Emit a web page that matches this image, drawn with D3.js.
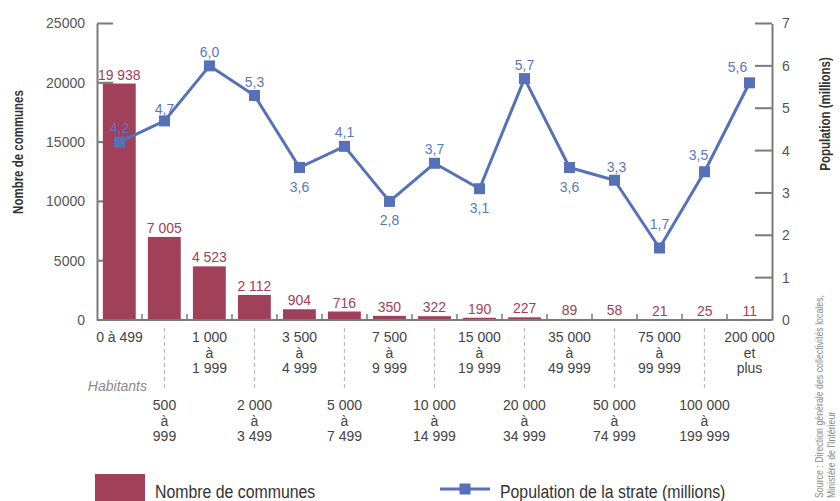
<!DOCTYPE html>
<html>
<head>
<meta charset="utf-8">
<script src="https://cdn.jsdelivr.net/npm/d3@7"></script>
<style>
  html, body { margin: 0; padding: 0; background: #fff; }
  svg { display: block; }
</style>
</head>
<body>
<svg id="chart" width="840" height="501"></svg>
<script>
// ---- Data ----
const categories = [
  "0 à 499", "500 à 999", "1 000 à 1 999", "2 000 à 3 499", "3 500 à 4 999",
  "5 000 à 7 499", "7 500 à 9 999", "10 000 à 14 999", "15 000 à 19 999",
  "20 000 à 34 999", "35 000 à 49 999", "50 000 à 74 999", "75 000 à 99 999",
  "100 000 à 199 999", "200 000 et plus"
];
const categoryLines = [
  ["0 à 499"], ["500", "à", "999"], ["1 000", "à", "1 999"], ["2 000", "à", "3 499"],
  ["3 500", "à", "4 999"], ["5 000", "à", "7 499"], ["7 500", "à", "9 999"],
  ["10 000", "à", "14 999"], ["15 000", "à", "19 999"], ["20 000", "à", "34 999"],
  ["35 000", "à", "49 999"], ["50 000", "à", "74 999"], ["75 000", "à", "99 999"],
  ["100 000", "à", "199 999"], ["200 000", "et", "plus"]
];
const communes = [19938, 7005, 4523, 2112, 904, 716, 350, 322, 190, 227, 89, 58, 21, 25, 11];
const communesLabels = ["19 938", "7 005", "4 523", "2 112", "904", "716", "350", "322", "190", "227", "89", "58", "21", "25", "11"];
const population = [4.2, 4.7, 6.0, 5.3, 3.6, 4.1, 2.8, 3.7, 3.1, 5.7, 3.6, 3.3, 1.7, 3.5, 5.6];
const leftTicks = [0, 5000, 10000, 15000, 20000, 25000];
const rightTicks = [0, 1, 2, 3, 4, 5, 6, 7];

// label placement for line values: [dx, dy] relative to point
const popLabelPlace = [
  [0, -9], [0, -7], [0, -9], [0, -9], [0, 24], [0, -9], [0, 24], [0, -9],
  [0, 24], [0, -9], [0, 24], [2, -8], [0, -19], [-6, -12], [-12, -11]
];

// ---- Styles ----
const barColor = "#a1405b";
const lineColor = "#5671b8";
const lineLabelColor = "#5a76c0";
const axisColor = "#7a7a7a";
const font = "'Liberation Sans', Arial, sans-serif";

// condense text horizontally (the original uses a condensed typeface)
function condense(sel, factor) {
  sel.each(function () {
    const w = this.getComputedTextLength();
    d3.select(this).attr("textLength", w * factor).attr("lengthAdjust", "spacingAndGlyphs");
  });
  return sel;
}

const svg = d3.select("#chart").attr("font-family", font);

const x0 = 97, x1 = 772, yBase = 320, yTop = 23.5;

const x = d3.scaleBand().domain(categories).range([x0, x1]).paddingInner(0.27).paddingOuter(0.13);
const xb = d3.scaleBand().domain(categories).range([x0, x1]);
const yL = d3.scaleLinear().domain([0, 25000]).range([yBase, yTop]);
const yR = d3.scaleLinear().domain([0, 7]).range([yBase, yTop]);

// Left axis
const leftAxis = d3.axisLeft(yL).tickValues(leftTicks).tickSize(0).tickPadding(12).tickFormat(d3.format("d"));
const gL = svg.append("g").attr("transform", `translate(${x0},0)`).call(leftAxis);
gL.select(".domain").attr("stroke", axisColor).attr("stroke-width", 2);
gL.selectAll(".tick text").attr("font-family", font).attr("font-size", 14).attr("fill", "#555");
svg.append("g").selectAll("line").data(leftTicks).join("line")
  .attr("x1", x0).attr("x2", x0 + 16)
  .attr("y1", d => yL(d)).attr("y2", d => yL(d))
  .attr("stroke", axisColor).attr("stroke-width", 2);

// Right axis
const rightAxis = d3.axisRight(yR).tickValues(rightTicks).tickSize(0).tickPadding(10).tickFormat(d3.format("d"));
const gR = svg.append("g").attr("transform", `translate(${x1},0)`).call(rightAxis);
gR.select(".domain").attr("stroke", axisColor).attr("stroke-width", 2);
gR.selectAll(".tick text").attr("font-family", font).attr("font-size", 14).attr("fill", "#555");
svg.append("g").selectAll("line").data(rightTicks).join("line")
  .attr("x1", x1 - 17).attr("x2", x1)
  .attr("y1", d => yR(d)).attr("y2", d => yR(d))
  .attr("stroke", axisColor).attr("stroke-width", 2);

// Bars
svg.append("g").selectAll("rect").data(communes).join("rect")
  .attr("x", (d, i) => x(categories[i]))
  .attr("width", x.bandwidth())
  .attr("y", d => yL(d))
  .attr("height", d => yBase - yL(d))
  .attr("fill", barColor);

// Bar labels
const barLbl = svg.append("g").selectAll("text").data(communes).join("text")
  .attr("x", (d, i) => x(categories[i]) + x.bandwidth() / 2)
  .attr("y", d => yL(d) - 4)
  .attr("text-anchor", "middle")
  .attr("font-size", 15.5)
  .attr("fill", barColor)
  .text((d, i) => communesLabels[i]);
condense(barLbl, 0.9);

// X axis baseline
svg.append("line").attr("x1", x0).attr("x2", x1).attr("y1", yBase).attr("y2", yBase)
  .attr("stroke", axisColor).attr("stroke-width", 2);
svg.append("g").selectAll("line").data(categories.slice(1)).join("line")
  .attr("x1", d => xb(d)).attr("x2", d => xb(d))
  .attr("y1", yBase - 6).attr("y2", yBase)
  .attr("stroke", axisColor).attr("stroke-width", 1.5);

// X category labels (two rows)
const cx = i => xb(categories[i]) + xb.bandwidth() / 2;
const xl = svg.append("g").attr("font-size", 14).attr("fill", "#444").attr("text-anchor", "middle");
categoryLines.forEach((lines, i) => {
  const top = i % 2 === 0;
  const baseY = top ? 342 : 410;
  lines.forEach((t, j) => {
    xl.append("text").attr("x", cx(i)).attr("y", baseY + j * 15.7).text(t);
  });
  if (!top) {
    svg.append("line").attr("x1", cx(i)).attr("x2", cx(i)).attr("y1", 328).attr("y2", 390)
      .attr("stroke", "#bbb").attr("stroke-width", 1.2).attr("stroke-dasharray", "4,3");
  }
});
svg.append("text").attr("x", 147).attr("y", 391).attr("text-anchor", "end")
  .attr("font-size", 14).attr("font-style", "italic").attr("fill", "#8a8a8a")
  .text("Habitants");

// Population line
const line = d3.line().x((d, i) => cx(i)).y(d => yR(d));
svg.append("path").datum(population).attr("d", line)
  .attr("fill", "none").attr("stroke", lineColor).attr("stroke-width", 3).attr("stroke-linejoin", "round");
const sq = 11;
svg.append("g").selectAll("rect").data(population).join("rect")
  .attr("x", (d, i) => cx(i) - sq / 2).attr("y", d => yR(d) - sq / 2)
  .attr("width", sq).attr("height", sq).attr("fill", lineColor);
const popLbl = svg.append("g").selectAll("text").data(population).join("text")
  .attr("x", (d, i) => cx(i) + popLabelPlace[i][0])
  .attr("y", (d, i) => yR(d) + popLabelPlace[i][1])
  .attr("text-anchor", "middle")
  .attr("font-size", 15.5)
  .attr("fill", lineLabelColor)
  .text(d => d3.format(".1f")(d).replace(".", ","));
condense(popLbl, 0.9);

// Axis titles
const t1 = svg.append("text").attr("transform", "translate(23,152) rotate(-90)").attr("text-anchor", "middle")
  .attr("font-size", 14).attr("font-weight", "bold").attr("fill", "#333")
  .text("Nombre de communes");
const t2 = svg.append("text").attr("transform", "translate(830,114) rotate(-90)").attr("text-anchor", "middle")
  .attr("font-size", 14).attr("font-weight", "bold").attr("fill", "#333")
  .text("Population (millions)");
condense(t1, 0.82);
condense(t2, 0.82);

// Source
const src = svg.append("g").attr("font-size", 11).attr("fill", "#8a8a8a");
const s1 = src.append("text").attr("transform", "translate(823,498) rotate(-90)").text("Source : Direction générale des collectivités locales,");
const s2 = src.append("text").attr("transform", "translate(835,498) rotate(-90)").text("Ministère de l'Intérieur");
condense(s1, 0.8);
condense(s2, 0.8);

// Legend
svg.append("rect").attr("x", 95).attr("y", 474).attr("width", 50).attr("height", 27).attr("fill", barColor);
const l1 = svg.append("text").attr("x", 155).attr("y", 498).attr("font-size", 18).attr("fill", "#333")
  .text("Nombre de communes");
svg.append("line").attr("x1", 440).attr("x2", 490).attr("y1", 489).attr("y2", 489)
  .attr("stroke", lineColor).attr("stroke-width", 3);
svg.append("rect").attr("x", 465 - sq / 2).attr("y", 489 - sq / 2).attr("width", sq).attr("height", sq).attr("fill", lineColor);
const l2 = svg.append("text").attr("x", 500).attr("y", 498).attr("font-size", 18).attr("fill", "#333")
  .text("Population de la strate (millions)");
condense(l1, 0.88);
condense(l2, 0.88);
</script>
</body>
</html>
